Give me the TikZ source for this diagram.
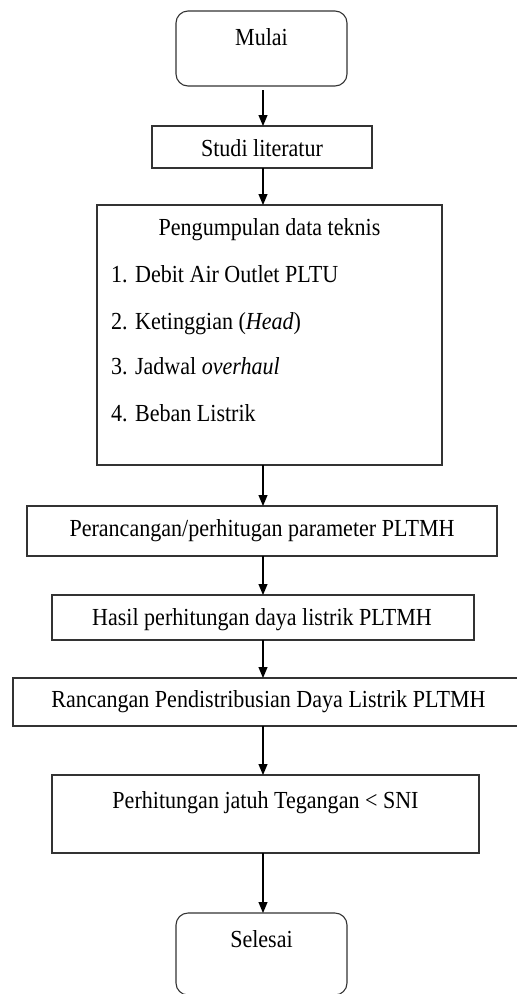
\documentclass[tikz,border=0pt]{standalone}
\usepackage{fontspec}
\setmainfont{Liberation Serif}[FakeStretch=0.9]
\usetikzlibrary{arrows.meta}
\begin{document}
\begin{tikzpicture}[x=1pt,y=-1pt,
  font=\fontsize{24.5}{28}\selectfont,
  box/.style={draw=black!80,line width=1.1pt,inner sep=0pt,outer sep=0pt},
  term/.style={box,rounded corners=12pt},
  txt/.style={anchor=base,inner sep=0pt,text=black},
  itm/.style={anchor=base west,inner sep=0pt,text=black},
  arr/.style={draw=black,line width=1.1pt,-{Triangle[length=11pt,width=9pt]}}]
\clip (0,0) rectangle (517,994);
\useasboundingbox (0,0) rectangle (517,994);
\coordinate (ax) at (263,0);
% boxes
\node[term,minimum width=171pt,minimum height=75pt] (mulai) at (261.5,48.5) {};
\node[box,minimum width=220pt,minimum height=42pt] (studi) at (262,147) {};
\node[box,minimum width=345pt,minimum height=260pt] (data) at (269.5,335) {};
\node[box,minimum width=470pt,minimum height=50pt] (rancang) at (262,531) {};
\node[box,minimum width=422pt,minimum height=45pt] (hasil) at (263,617.5) {};
\node[box,minimum width=512pt,minimum height=48pt] (distrib) at (269,702) {};
\node[box,minimum width=427pt,minimum height=78pt] (jatuh) at (265.5,814) {};
\node[term,minimum width=171pt,minimum height=82pt] (selesai) at (261.5,954) {};
% texts
\node[txt] (tmulai) at (261.5,45) {Mulai};
\node[txt] (tstudi) at (262,156) {Studi literatur};
\node[txt] (tdata) at (269.5,235) {Pengumpulan data teknis};
\node[itm] (i1) at (111,282) {1. Debit Air Outlet PLTU};
\node[itm] (i2) at (111,329) {2. Ketinggian (\textit{Head})};
\node[itm] (i3) at (111,374) {3. Jadwal \textit{overhaul}};
\node[itm] (i4) at (111,421) {4. Beban Listrik};
\node[txt] (trancang) at (262,536) {Perancangan/perhitugan parameter PLTMH};
\node[txt] (thasil) at (262,625) {Hasil perhitungan daya listrik PLTMH};
\node[txt] (tdistrib) at (268.5,707) {Rancangan Pendistribusian Daya Listrik PLTMH};
\node[txt] (tjatuh) at (265.5,808) {Perhitungan jatuh Tegangan < SNI};
\node[txt] (tselesai) at (261.5,947) {Selesai};
% arrows
\draw[arr] ([yshift=-4pt]mulai.south -| ax) -- (studi.north -| ax);
\draw[arr] (studi.south -| ax) -- (data.north -| ax);
\draw[arr] (data.south -| ax) -- (rancang.north -| ax);
\draw[arr] (rancang.south -| ax) -- (hasil.north -| ax);
\draw[arr] (hasil.south -| ax) -- (distrib.north -| ax);
\draw[arr] (distrib.south -| ax) -- (jatuh.north -| ax);
\draw[arr] (jatuh.south -| ax) -- (selesai.north -| ax);
\end{tikzpicture}
\end{document}
